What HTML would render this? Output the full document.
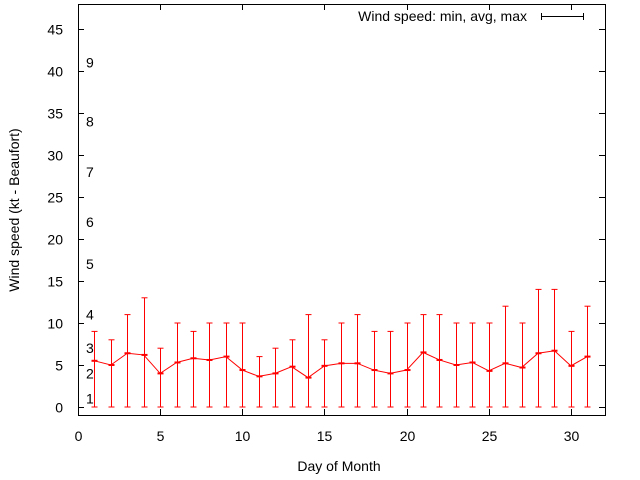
<!DOCTYPE html>
<html><head><meta charset="utf-8"><style>
body{margin:0;background:#fff;}
svg{display:block;font-family:"Liberation Sans",sans-serif;}
</style></head><body>
<svg id="chart" width="640" height="480">
<g id="axes"></g>
<g id="marks"></g>
</svg>
<script>
const days=[1,2,3,4,5,6,7,8,9,10,11,12,13,14,15,16,17,18,19,20,21,22,23,24,25,26,27,28,29,30,31];
const minVals=[0,0,0,0,0,0,0,0,0,0,0,0,0,0,0,0,0,0,0,0,0,0,0,0,0,0,0,0,0,0,0];
const avgVals=[5.5,5.0,6.4,6.2,4.0,5.3,5.8,5.6,6.0,4.4,3.65,4.0,4.8,3.5,4.9,5.2,5.2,4.4,4.0,4.4,6.5,5.6,5.0,5.3,4.3,5.2,4.7,6.4,6.7,4.9,6.0];
const maxVals=[9,8,11,13,7,10,9,10,10,10,6,7,8,11,8,10,11,9,9,10,11,11,10,10,10,12,10,14,14,9,12];
const xTicks=[0,5,10,15,20,25,30];
const yTicks=[0,5,10,15,20,25,30,35,40,45];
const beaufortLabels=["1","2","3","4","5","6","7","8","9"];
const beaufortKt=[1,4,7,11,17,22,28,34,41];

const L=78,R=605,T=4,B=415;
const X=v=>78+v*16.43;
const Y=v=>407-v*8.4;
const NS="http://www.w3.org/2000/svg";
const axes=document.getElementById('axes'),marks=document.getElementById('marks');
function mk(tag,attrs,parent,txt){const e=document.createElementNS(NS,tag);for(const k in attrs)e.setAttribute(k,attrs[k]);if(txt!==undefined)e.textContent=txt;parent.appendChild(e);return e;}

const frame=mk('rect',{x:L+0.5,y:T+0.5,width:R-L,height:B-T,fill:'none',stroke:'#000','stroke-width':1},axes);



yTicks.forEach(v=>{
  const y=Math.round(Y(v))+0.5;
  mk('line',{x1:L,x2:L+6,y1:y,y2:y,stroke:'#000'},axes);
  mk('line',{x1:R-6,x2:R,y1:y,y2:y,stroke:'#000'},axes);
  const t=mk('text',{x:63,y:y+5,'text-anchor':'end','font-size':14,fill:'#000'},axes,String(v));
  
  
});
xTicks.forEach(v=>{
  const x=Math.round(X(v))+0.5;
  mk('line',{x1:x,x2:x,y1:B,y2:B-6,stroke:'#000'},axes);
  mk('line',{x1:x,x2:x,y1:T,y2:T+6,stroke:'#000'},axes);
  const t=mk('text',{x:x,y:441,'text-anchor':'middle','font-size':14,fill:'#000'},axes,String(v));
  
  
});
beaufortLabels.forEach((s,i)=>{
  const t=mk('text',{x:86,y:Y(beaufortKt[i])+5,'font-size':14,fill:'#000'},axes,s);
  
  
});
const xt=mk('text',{x:339,y:471,'text-anchor':'middle','font-size':14},axes,'Day of Month');


const yt=mk('text',{x:0,y:0,'text-anchor':'middle','font-size':14,transform:'translate(19,210) rotate(-90)'},axes,'Wind speed (kt - Beaufort)');



// legend
const lt=mk('text',{x:527,y:21,'text-anchor':'end','font-size':14},axes,'Wind speed: min, avg, max');


const lg=mk('g',{stroke:'#000'},axes);


mk('line',{x1:541,x2:584,y1:16.5,y2:16.5},lg);
mk('line',{x1:541.5,x2:541.5,y1:13,y2:20},lg);
mk('line',{x1:583.5,x2:583.5,y1:13,y2:20},lg);

// series
let pts=days.map((d,i)=>X(d)+','+Y(avgVals[i])).join(' ');
const pl=mk('polyline',{points:pts,fill:'none',stroke:'#f00','stroke-width':1},marks);


days.forEach((d,i)=>{
  const x=Math.round(X(d))+0.5;
  const g=mk('g',{stroke:'#f00','stroke-width':1},marks);
  
  
  mk('line',{x1:x,x2:x,y1:Y(minVals[i]),y2:Y(maxVals[i])},g);
  mk('line',{x1:x-3,x2:x+3,y1:Y(minVals[i]),y2:Y(minVals[i])},g);
  mk('line',{x1:x-3,x2:x+3,y1:Y(maxVals[i]),y2:Y(maxVals[i])},g);
  mk('line',{x1:x-3,x2:x+3,y1:Y(avgVals[i]),y2:Y(avgVals[i]),'stroke-width':2},g);
});
</script>
</body></html>
